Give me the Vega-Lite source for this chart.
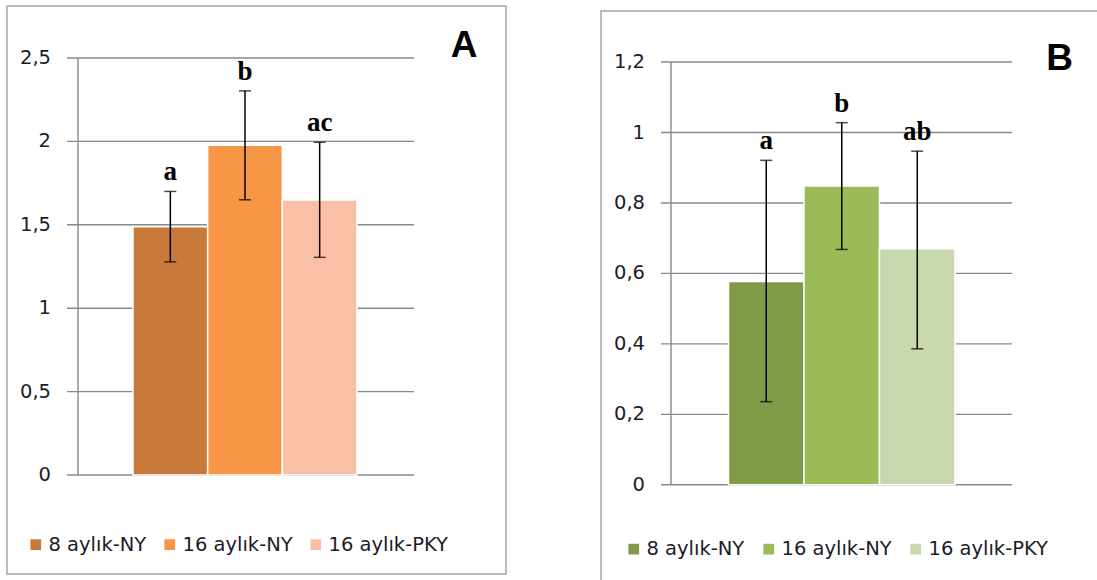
{
  "$schema": "https://vega.github.io/schema/vega-lite/v6.json",
  "background": "white",
  "padding": {"left": 6, "top": 5, "right": 0, "bottom": 0},
  "spacing": 93,
  "datasets": {
    "A": [
      {"group": "8 aylık-NY", "value": 1.488, "lo": 1.278, "hi": 1.70, "letter": "a"},
      {"group": "16 aylık-NY", "value": 1.977, "lo": 1.65, "hi": 2.303, "letter": "b"},
      {"group": "16 aylık-PKY", "value": 1.649, "lo": 1.305, "hi": 1.995, "letter": "ac"}
    ],
    "B": [
      {"group": "8 aylık-NY", "value": 0.577, "lo": 0.236, "hi": 0.921, "letter": "a"},
      {"group": "16 aylık-NY", "value": 0.848, "lo": 0.668, "hi": 1.028, "letter": "b"},
      {"group": "16 aylık-PKY", "value": 0.670, "lo": 0.386, "hi": 0.947, "letter": "ab"}
    ],
    "gridA": [
      {"v": 0, "label": "0"}, {"v": 0.5, "label": "0,5"}, {"v": 1, "label": "1"},
      {"v": 1.5, "label": "1,5"}, {"v": 2, "label": "2"}, {"v": 2.5, "label": "2,5"}
    ],
    "gridB": [
      {"v": 0, "label": "0"}, {"v": 0.2, "label": "0,2"}, {"v": 0.4, "label": "0,4"},
      {"v": 0.6, "label": "0,6"}, {"v": 0.8, "label": "0,8"}, {"v": 1, "label": "1"},
      {"v": 1.2, "label": "1,2"}
    ]
  },
  "hconcat": [
    {
      "width": 499,
      "height": 568,
      "view": {"stroke": "#a6a6a6", "strokeWidth": 1.5},
      "layer": [
        {
          "layer": [
            {
              "data": {"name": "gridA"},
              "mark": {"type": "rule", "color": "#898989", "strokeWidth": 1.4},
              "encoding": {
                "y": {"field": "v", "type": "quantitative", "scale": {"domain": [-0.5935, 2.8118], "nice": false, "zero": false}, "axis": null},
                "x": {"datum": -0.3838, "type": "quantitative", "scale": {"domain": [-1.1875, 5.4955], "nice": false, "zero": false}, "axis": null},
                "x2": {"datum": 4.2634}
              }
            },
            {
              "data": {"name": "gridA"},
              "mark": {"type": "text", "font": "DejaVu Sans", "fontSize": 19.5, "align": "right", "baseline": "middle", "color": "#1c1c28"},
              "encoding": {
                "y": {"field": "v", "type": "quantitative", "axis": null},
                "x": {"datum": -0.598, "type": "quantitative", "axis": null},
                "text": {"field": "label"}
              }
            },
            {
              "data": {"values": [{}]},
              "mark": {"type": "rule", "color": "#898989", "strokeWidth": 1.4},
              "encoding": {
                "x": {"datum": -0.2365, "type": "quantitative", "axis": null},
                "y": {"datum": 0, "type": "quantitative", "axis": null},
                "y2": {"datum": 2.5}
              }
            },
            {
              "data": {"values": [{"label": "A"}]},
              "mark": {"type": "text", "font": "Liberation Sans", "fontWeight": "bold", "fontSize": 37, "baseline": "middle", "align": "center", "color": "black"},
              "encoding": {
                "x": {"datum": 4.933, "type": "quantitative", "axis": null},
                "y": {"datum": 2.572, "type": "quantitative", "axis": null},
                "text": {"field": "label"}
              }
            }
          ]
        },
        {
          "data": {"name": "A"},
          "encoding": {
            "x": {"field": "group", "type": "nominal", "sort": null, "scale": {"range": [126, 350], "paddingInner": 0, "paddingOuter": 0}, "axis": null}
          },
          "layer": [
            {
              "mark": {"type": "bar", "stroke": "white", "strokeWidth": 1.5},
              "encoding": {
                "y": {"field": "value", "type": "quantitative", "scale": {"domain": [-0.5935, 2.8118], "nice": false, "zero": false}, "axis": null},
                "y2": {"datum": 0},
                "color": {
                  "field": "group", "type": "nominal",
                  "scale": {"domain": ["8 aylık-NY", "16 aylık-NY", "16 aylık-PKY"], "range": ["#C87A3A", "#F79646", "#F9C0A6"]},
                  "legend": {
                    "orient": "none", "legendX": 19, "legendY": 528.5, "direction": "horizontal",
                    "title": null, "symbolType": "square", "symbolSize": 115, "symbolStrokeWidth": 0,
                    "labelFont": "DejaVu Sans", "labelFontSize": 19.5, "labelColor": "#1c1c28",
                    "labelOffset": 3, "columnPadding": 13, "padding": 0, "labelLimit": 300
                  }
                }
              }
            },
            {
              "mark": {"type": "rule", "color": "black", "strokeWidth": 1.5},
              "encoding": {
                "y": {"field": "lo", "type": "quantitative", "axis": null},
                "y2": {"field": "hi"}
              }
            },
            {
              "mark": {"type": "tick", "color": "black", "thickness": 1.5, "size": 12},
              "encoding": {"y": {"field": "lo", "type": "quantitative", "axis": null}}
            },
            {
              "mark": {"type": "tick", "color": "black", "thickness": 1.5, "size": 12},
              "encoding": {"y": {"field": "hi", "type": "quantitative", "axis": null}}
            },
            {
              "mark": {"type": "text", "font": "Liberation Serif", "fontWeight": "bold", "fontSize": 27, "dy": -11, "baseline": "alphabetic", "align": "center", "color": "black"},
              "encoding": {
                "y": {"field": "hi", "type": "quantitative", "axis": null},
                "text": {"field": "letter"}
              }
            }
          ]
        }
      ],
      "resolve": {"scale": {"x": "independent"}}
    },
    {
      "spacing": 0,
      "vconcat": [
        {
          "width": 499,
          "height": 4,
          "view": {"stroke": null},
          "data": {"values": []},
          "mark": "point"
        },
        {
          "width": 499,
          "height": 571,
          "view": {"stroke": "#a6a6a6", "strokeWidth": 1.5},
          "layer": [
            {
              "layer": [
                {
                  "data": {"name": "gridB"},
                  "mark": {"type": "rule", "color": "#898989", "strokeWidth": 1.4},
                  "encoding": {
                    "y": {"field": "v", "type": "quantitative", "scale": {"domain": [-0.2759, 1.3449], "nice": false, "zero": false}, "axis": null},
                    "x": {"datum": -0.394, "type": "quantitative", "scale": {"domain": [-1.1887, 5.4205], "nice": false, "zero": false}, "axis": null},
                    "x2": {"datum": 4.255}
                  }
                },
                {
                  "data": {"name": "gridB"},
                  "mark": {"type": "text", "font": "DejaVu Sans", "fontSize": 19.5, "align": "right", "baseline": "middle", "color": "#1c1c28"},
                  "encoding": {
                    "y": {"field": "v", "type": "quantitative", "axis": null},
                    "x": {"datum": -0.606, "type": "quantitative", "axis": null},
                    "text": {"field": "label"}
                  }
                },
                {
                  "data": {"values": [{}]},
                  "mark": {"type": "rule", "color": "#898989", "strokeWidth": 1.4},
                  "encoding": {
                    "x": {"datum": -0.2616, "type": "quantitative", "axis": null},
                    "y": {"datum": 0, "type": "quantitative", "axis": null},
                    "y2": {"datum": 1.2}
                  }
                },
                {
                  "data": {"values": [{"label": "B"}]},
                  "mark": {"type": "text", "font": "Liberation Sans", "fontWeight": "bold", "fontSize": 37, "baseline": "middle", "align": "center", "color": "black"},
                  "encoding": {
                    "x": {"datum": 4.887, "type": "quantitative", "axis": null},
                    "y": {"datum": 1.2095, "type": "quantitative", "axis": null},
                    "text": {"field": "label"}
                  }
                }
              ]
            },
            {
              "data": {"name": "B"},
              "encoding": {
                "x": {"field": "group", "type": "nominal", "sort": null, "scale": {"range": [127.5, 354], "paddingInner": 0, "paddingOuter": 0}, "axis": null}
              },
              "layer": [
                {
                  "mark": {"type": "bar", "stroke": "white", "strokeWidth": 1.5},
                  "encoding": {
                    "y": {"field": "value", "type": "quantitative", "scale": {"domain": [-0.2759, 1.3449], "nice": false, "zero": false}, "axis": null},
                    "y2": {"datum": 0},
                    "color": {
                      "field": "group", "type": "nominal",
                      "scale": {"domain": ["8 aylık-NY", "16 aylık-NY", "16 aylık-PKY"], "range": ["#7F9B48", "#9BBB59", "#C8D7AD"]},
                      "legend": {
                        "orient": "none", "legendX": 23, "legendY": 533, "direction": "horizontal",
                        "title": null, "symbolType": "square", "symbolSize": 115, "symbolStrokeWidth": 0,
                        "labelFont": "DejaVu Sans", "labelFontSize": 19.5, "labelColor": "#1c1c28",
                        "labelOffset": 3, "columnPadding": 14, "padding": 0, "labelLimit": 300
                      }
                    }
                  }
                },
                {
                  "mark": {"type": "rule", "color": "black", "strokeWidth": 1.5},
                  "encoding": {
                    "y": {"field": "lo", "type": "quantitative", "axis": null},
                    "y2": {"field": "hi"}
                  }
                },
                {
                  "mark": {"type": "tick", "color": "black", "thickness": 1.5, "size": 12},
                  "encoding": {"y": {"field": "lo", "type": "quantitative", "axis": null}}
                },
                {
                  "mark": {"type": "tick", "color": "black", "thickness": 1.5, "size": 12},
                  "encoding": {"y": {"field": "hi", "type": "quantitative", "axis": null}}
                },
                {
                  "mark": {"type": "text", "font": "Liberation Serif", "fontWeight": "bold", "fontSize": 27, "dy": -11, "baseline": "alphabetic", "align": "center", "color": "black"},
                  "encoding": {
                    "y": {"field": "hi", "type": "quantitative", "axis": null},
                    "text": {"field": "letter"}
                  }
                }
              ]
            }
          ],
          "resolve": {"scale": {"x": "independent"}}
        }
      ]
    }
  ],
  "resolve": {"scale": {"color": "independent", "x": "independent", "y": "independent"}}
}
